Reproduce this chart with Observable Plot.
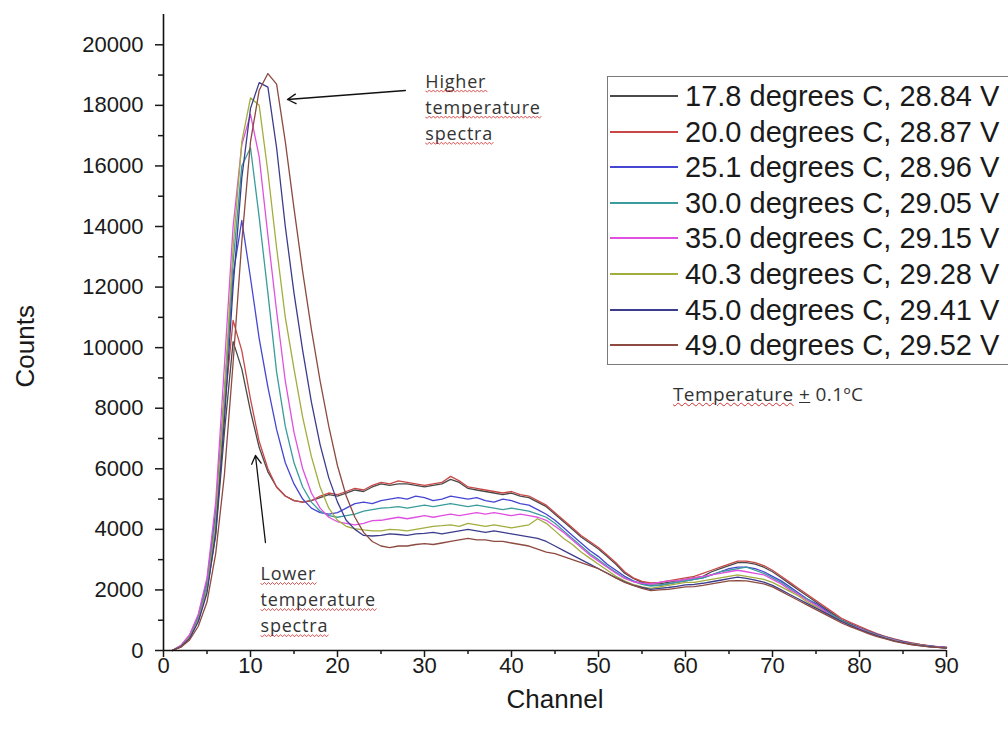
<!DOCTYPE html>
<html><head><meta charset="utf-8">
<script src="https://cdn.jsdelivr.net/npm/d3@7"></script>
<script src="https://cdn.jsdelivr.net/npm/@observablehq/plot@0.6"></script>
<style>
html,body{margin:0;padding:0;background:#fff;overflow:hidden;}
#wrap{position:relative;width:1008px;height:740px;overflow:hidden;}
#legend{position:absolute;left:607px;top:76px;width:440px;height:289px;border:1.5px solid #7a7a7a;box-sizing:border-box;font-family:"Liberation Sans",Arial,sans-serif;font-size:29px;color:#1a1a1a;background:#fff;}
.row{position:absolute;left:0;height:36px;display:flex;align-items:center;white-space:nowrap;}
.sw{width:68px;height:1.5px;margin-left:2px;margin-right:7px;}
#note{position:absolute;left:673px;top:381px;font-family:"Open Sans",sans-serif;font-size:19px;color:#333;letter-spacing:0.4px;white-space:nowrap;}
.wavy{text-decoration:underline wavy #d03030;text-decoration-thickness:1px;}
.plain{text-decoration:underline;}
</style></head>
<body><div id="wrap"></div>
<script>
const channels = d3.range(1, 91);
const seriesNames = [
  "17.8 degrees C, 28.84 V","20.0 degrees C, 28.87 V","25.1 degrees C, 28.96 V","30.0 degrees C, 29.05 V",
  "35.0 degrees C, 29.15 V","40.3 degrees C, 29.28 V","45.0 degrees C, 29.41 V","49.0 degrees C, 29.52 V"];
const seriesColors = ["#4a4a4a","#c84848","#4646d2","#3a9c9c","#e050e0","#a3ad3e","#3c3c8c","#8c4a40"];

const s178 = [0,120,420,1000,2000,3800,7200,10200,9300,7900, 6700,5900,5400,5100,4950,4900,4950,5050,5150,5100, 5200,5300,5250,5400,5500,5450,5500,5500,5450,5400, 5450,5500,5650,5550,5350,5300,5250,5200,5150,5200, 5100,5050,4900,4750,4500,4250,4000,3750,3550,3350, 3100,2850,2550,2380,2250,2200,2200,2250,2300,2350, 2400,2450,2600,2700,2800,2900,2900,2850,2750,2600, 2400,2200,2000,1800,1600,1400,1200,1000,880,760, 640,540,450,370,300,240,190,150,120,100];
const s200 = [0,150,480,1100,2200,4300,8000,10900,9900,8300, 6900,6000,5400,5100,4950,4900,4950,5100,5200,5150, 5250,5350,5300,5450,5550,5500,5600,5550,5500,5450, 5500,5550,5750,5600,5400,5350,5300,5250,5200,5250, 5150,5100,4950,4800,4550,4300,4050,3800,3600,3400, 3150,2900,2600,2400,2280,2230,2250,2300,2350,2400, 2450,2550,2650,2750,2850,2950,2950,2900,2800,2650, 2450,2250,2050,1850,1650,1450,1250,1050,920,800, 670,560,460,380,310,250,200,160,130,100];
const s251 = [0,160,500,1150,2300,4600,8500,12400,14200,12300, 10300,8700,7300,6200,5500,5000,4700,4550,4500,4550, 4700,4850,4900,4850,4950,5000,5050,5000,5100,5050, 4950,5000,5100,5050,5000,5050,4950,4900,5000,4950, 4850,4800,4650,4500,4300,4050,3800,3550,3300,3100, 2850,2650,2450,2300,2200,2150,2150,2200,2250,2300, 2350,2400,2500,2600,2700,2750,2750,2700,2600,2450, 2300,2100,1900,1700,1550,1350,1150,980,850,740, 630,530,440,360,290,230,180,150,120,100];
const s300 = [0,150,470,1100,2200,4400,8300,12800,16000,16600, 14300,11800,9200,7400,6200,5400,4900,4600,4450,4400, 4450,4500,4600,4650,4700,4720,4750,4700,4750,4800, 4750,4800,4850,4800,4750,4800,4750,4700,4650,4700, 4650,4600,4500,4400,4200,3950,3700,3450,3200,3000, 2780,2580,2400,2280,2180,2130,2150,2200,2250,2300, 2350,2400,2500,2600,2650,2700,2750,2650,2550,2400, 2250,2050,1850,1700,1500,1300,1150,980,850,730, 620,520,430,350,280,220,180,140,110,90];
const s350 = [0,170,520,1200,2400,4900,9400,14000,16700,17700, 16300,13700,11200,8900,7200,6000,5200,4700,4400,4250, 4200,4150,4200,4290,4300,4350,4400,4350,4400,4450, 4400,4450,4500,4450,4500,4550,4500,4550,4500,4450, 4500,4450,4400,4300,4100,3900,3650,3400,3150,2950, 2750,2550,2380,2270,2220,2200,2250,2300,2300,2350, 2400,2450,2500,2550,2600,2650,2600,2550,2500,2350, 2200,2000,1850,1650,1500,1300,1100,950,830,720, 610,510,420,340,270,210,170,130,110,90];
const s403 = [0,140,430,1000,2000,4200,8500,13300,16800,18250, 18000,15800,13300,11000,9300,7700,6400,5400,4700,4300, 4100,4020,3980,3950,3950,4000,3980,3950,4000,4050, 4100,4120,4150,4100,4200,4150,4100,4150,4100,4050, 4100,4150,4350,4200,3950,3700,3500,3250,3050,2850, 2650,2450,2300,2180,2100,2050,2100,2150,2200,2250, 2250,2300,2350,2400,2450,2500,2450,2400,2350,2250, 2100,1950,1800,1600,1450,1250,1100,950,820,700, 600,500,410,330,260,210,170,130,100,90];
const s450 = [0,130,400,950,1900,3900,7600,12000,15600,17900, 18750,18600,16600,14000,11800,9900,8200,6800,5700,4900, 4300,4000,3800,3780,3800,3850,3830,3800,3850,3870, 3900,3850,3900,3950,4000,3950,3900,3950,3900,3850, 3800,3750,3700,3600,3450,3300,3150,3000,2850,2700, 2550,2400,2270,2150,2080,2020,2050,2080,2120,2170, 2180,2220,2270,2320,2370,2420,2380,2320,2260,2150, 2000,1850,1700,1550,1400,1250,1100,950,820,700, 590,490,400,320,260,200,160,130,100,80];
const s490 = [0,110,350,800,1600,3200,5800,9500,13500,16800, 18500,19050,18700,16800,14600,12500,10600,8900,7400,6100, 5100,4400,3900,3600,3450,3400,3450,3450,3500,3530, 3500,3550,3600,3650,3700,3650,3650,3600,3600,3550, 3500,3450,3350,3250,3200,3100,3000,2900,2800,2700, 2550,2400,2250,2150,2050,1980,2000,2020,2060,2100, 2110,2150,2200,2250,2300,2310,2300,2250,2200,2100, 1950,1800,1650,1500,1350,1200,1050,900,780,670, 560,460,380,300,240,190,150,120,100,80];
const seriesValues = [s178, s200, s251, s300, s350, s403, s450, s490];

const yTicks = [0,2000,4000,6000,8000,10000,12000,14000,16000,18000,20000];
const yMinor = [1000,3000,5000,7000,9000,11000,13000,15000,17000,19000];
const xTicks = [0,10,20,30,40,50,60,70,80,90];
const xMinor = [5,15,25,35,45,55,65,75,85];

const annotations = [
  {x: 30.1, y: 19200, text: "Higher\ntemperature\nspectra"},
  {x: 11.15, y: 2940, text: "Lower\ntemperature\nspectra"}];
const arrows = [
  {x1: 27.8, y1: 18490, x2: 14.25, y2: 18193},
  {x1: 11.72, y1: 3566, x2: 10.57, y2: 6439}];

const rows = seriesNames.flatMap((name, i) => channels.map((ch, j) => ({series: name, channel: ch, counts: seriesValues[i][j]})));

const chart = Plot.plot({
  width: 1008, height: 740,
  marginLeft: 163, marginRight: 62, marginTop: 14, marginBottom: 90,
  style: {fontFamily: '"Liberation Sans", Arial, sans-serif', background: "#fff", color: "#1a1a1a", overflow: "visible"},
  x: {domain: [0, 90]},
  y: {domain: [0, 21000]},
  color: {domain: seriesNames, range: seriesColors},
  marks: [
    Plot.line(rows, {x: "channel", y: "counts", z: "series", stroke: "series", strokeWidth: 1.3}),
    Plot.ruleX([0], {stroke: "#111", strokeWidth: 1.6}),
    Plot.ruleY([0], {stroke: "#111", strokeWidth: 1.6}),
    Plot.axisY({ticks: yTicks, tickSize: 8, tickPadding: 12, tickFormat: d3.format("d"), fontSize: 22, label: null, strokeWidth: 1.5}),
    Plot.axisY({ticks: yMinor, tickSize: 5, tickFormat: () => "", label: null, strokeWidth: 1.5}),
    Plot.axisX({ticks: xTicks, tickSize: 7, tickPadding: 0, fontSize: 22, label: null, strokeWidth: 1.5}),
    Plot.axisX({ticks: xMinor, tickSize: 4, tickFormat: () => "", label: null, strokeWidth: 1.5}),
    Plot.text(["Counts"], {frameAnchor: "left", dx: -138, dy: 55, rotate: -90, fontSize: 26}),
    Plot.text(["Channel"], {frameAnchor: "bottom", dy: 57, fontSize: 26}),
    Plot.text(annotations, {x: "x", y: "y", text: "text", textAnchor: "start", lineAnchor: "top", lineHeight: 1.45, fontSize: 18, fontFamily: "Open Sans", fill: "#333"}),
    Plot.arrow(arrows, {x1: "x1", y1: "y1", x2: "x2", y2: "y2", stroke: "#111", strokeWidth: 1.3, headLength: 11})
  ]
});

const wrap = document.getElementById("wrap");
wrap.appendChild(chart);

// red spell-check squiggles under the annotation words, measured from the rendered text
const annotTexts = Array.from(chart.querySelectorAll("text")).filter(t => /spectra/.test(t.textContent));
annotTexts.forEach(textEl => {
  textEl.style.letterSpacing = "0.8px";
  const parts = textEl.querySelectorAll("tspan").length ? Array.from(textEl.querySelectorAll("tspan")) : [textEl];
  parts.forEach(part => {
    const n = part.getNumberOfChars();
    if (!n) return;
    const p0 = part.getStartPositionOfChar(0);
    const p1 = part.getEndPositionOfChar(n - 1);
    const y0 = p0.y + 3.5;
    let d = `M${p0.x},${y0}`;
    for (let x = p0.x, k = 0; x < p1.x; x += 2, k++) d += `L${x + 2},${y0 + (k % 2 ? -1.1 : 1.1)}`;
    const path = document.createElementNS("http://www.w3.org/2000/svg", "path");
    path.setAttribute("d", d);
    path.setAttribute("fill", "none");
    path.setAttribute("stroke", "#d03030");
    path.setAttribute("stroke-width", "0.8");
    if (textEl.getAttribute("transform")) path.setAttribute("transform", textEl.getAttribute("transform"));
    textEl.parentNode.appendChild(path);
  });
});

const legend = document.createElement("div");
legend.id = "legend";
seriesNames.forEach((name, i) => {
  const row = document.createElement("div");
  row.className = "row";
  row.style.top = Math.round(1 + i * 35.6) + "px";
  const sw = document.createElement("span");
  sw.className = "sw";
  sw.style.background = seriesColors[i];
  const label = document.createElement("span");
  label.textContent = name;
  row.appendChild(sw);
  row.appendChild(label);
  legend.appendChild(row);
});
wrap.appendChild(legend);

const note = document.createElement("div");
note.id = "note";
note.innerHTML = '<span class="wavy">Temperature</span> <span class="plain">+</span> 0.1ºC';
wrap.appendChild(note);
</script>
</body></html>
